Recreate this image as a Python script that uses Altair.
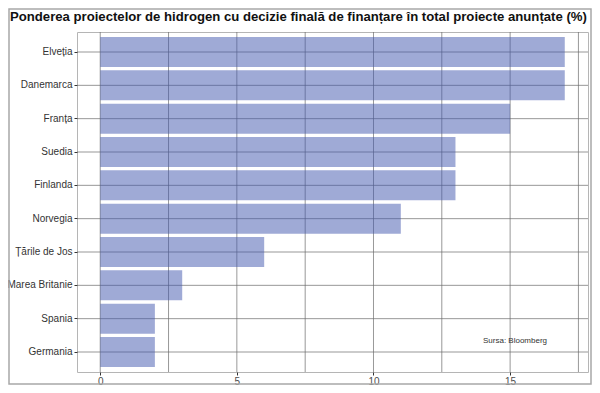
import altair as alt
import pandas as pd

countries = ["Elveția", "Danemarca", "Franța", "Suedia", "Finlanda", "Norvegia",
             "Țările de Jos", "Marea Britanie", "Spania", "Germania"]
shares = [17, 17, 15, 13, 13, 11, 6, 3, 2, 2]
grid_x = [0, 2.5, 5, 7.5, 10, 12.5, 15, 17.5]
x_ticks = [0, 5, 10, 15]
title_text = "Ponderea proiectelor de hidrogen cu decizie finală de finanțare în total proiecte anunțate (%)"
source_text = "Sursa: Bloomberg"

df = pd.DataFrame({"tara": countries, "pondere": shares, "zero": [0] * len(shares)})
gx = pd.DataFrame({"g": grid_x})

W, H = 511, 340
FONT = "Liberation Sans"
GRID = "#6b6b6b"

xscale = alt.Scale(domain=[-0.85, 17.85], nice=False, zero=False)
yscale = alt.Scale(domain=countries, paddingInner=0.1, paddingOuter=0.15)

xaxis = alt.Axis(values=x_ticks, title=None, grid=False, domain=False,
                 tickSize=3, tickColor="#333", labelColor="#4d4d4d",
                 labelFontSize=10, labelFont=FONT, labelPadding=1)
yaxis = alt.Axis(title=None, grid=False, domain=False, tickSize=3,
                 tickColor="#333", labelColor="#333", labelFontSize=10,
                 labelFont=FONT, labelPadding=2)

hgrid = alt.Chart(df).mark_rule(color=GRID, strokeWidth=0.7).encode(
    y=alt.Y("tara:N", scale=yscale, sort=countries, axis=yaxis)
)
vgrid = alt.Chart(gx).mark_rule(color=GRID, strokeWidth=0.7).encode(
    x=alt.X("g:Q", scale=xscale, axis=xaxis)
)
bars = alt.Chart(df).mark_bar(color="#3f55ad", opacity=0.5).encode(
    x=alt.X("pondere:Q", scale=xscale, axis=xaxis),
    x2="zero:Q",
    y=alt.Y("tara:N", scale=yscale, sort=countries, axis=yaxis),
)

src = alt.Chart(pd.DataFrame({"t": [source_text]})).mark_text(
    font=FONT, fontSize=8, color="#333", align="center", baseline="middle"
).encode(x=alt.value(438), y=alt.value(309), text="t:N")

ttl = alt.Chart(pd.DataFrame({"t": [title_text]})).mark_text(
    font=FONT, fontSize=13.15, fontWeight="bold", color="#111", align="left", baseline="middle"
).encode(x=alt.value(-67), y=alt.value(-15), text="t:N")

frame = alt.Chart(pd.DataFrame({"t": [0]})).mark_rect(
    filled=False, stroke="#a8a8a8", strokeWidth=1.5
).encode(x=alt.value(-68), x2=alt.value(514), y=alt.value(-23), y2=alt.value(352))

chart = alt.layer(hgrid, vgrid, bars, src, ttl, frame).properties(
    width=W, height=H,
    autosize=alt.AutoSizeParams(type="none"),
    padding={"left": 69, "top": 24, "right": 4, "bottom": 13},
    background="white",
).configure_view(stroke="#b5b5b5", strokeWidth=1)

chart.save("out.html", embed_options={"renderer": "svg", "actions": False})
